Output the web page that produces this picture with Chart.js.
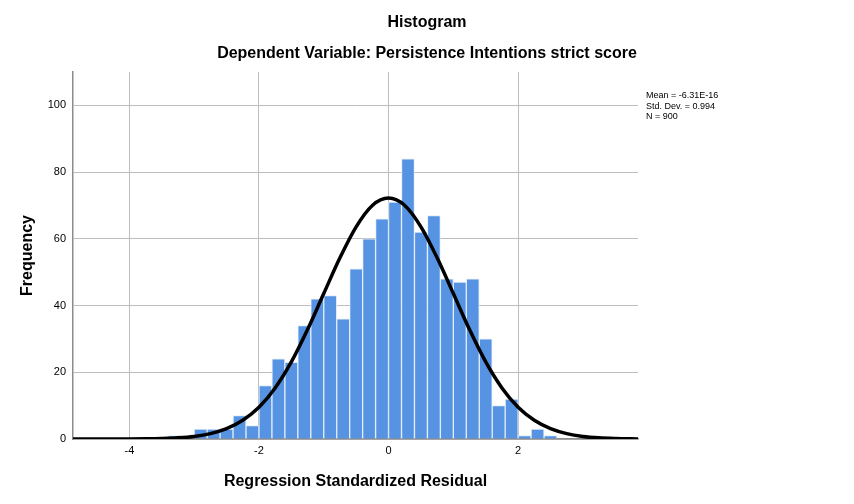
<!DOCTYPE html>
<html>
<head>
<meta charset="utf-8">
<script src="https://cdn.jsdelivr.net/npm/chart.js@4/dist/chart.umd.min.js"></script>
<style>
  body { margin: 0; background: #fff; }
  #wrap { position: relative; width: 854px; height: 504px; font-family: "Liberation Sans", Arial, sans-serif; }
  #hist { position: absolute; left: 0; top: 0; }
  .ttl { position: absolute; left: 0; width: 854px; text-align: center; font-weight: bold; font-size: 16px; color: #000; }
  #stats { position: absolute; left: 646px; top: 90px; font-size: 9px; line-height: 10.5px; color: #000; }
</style>
</head>
<body>
<div id="wrap">
  <canvas id="hist" width="854" height="504"></canvas>
  <div class="ttl" style="top:13px">Histogram</div>
  <div class="ttl" style="top:44px">Dependent Variable: Persistence Intentions strict score</div>
  <div id="stats">Mean = -6.31E-16<br>Std. Dev. = 0.994<br>N = 900</div>
</div>
<script>
// bins of width 0.2, given by their centres
let binCenters = [-3.3, -3.1, -2.9, -2.7, -2.5, -2.3, -2.1, -1.9, -1.7, -1.5, -1.3, -1.1, -0.9, -0.7,
                  -0.5, -0.3, -0.1, 0.1, 0.3, 0.5, 0.7, 0.9, 1.1, 1.3, 1.5, 1.7, 1.9, 2.1, 2.3, 2.5];
let counts = [1, 0, 3, 3, 3, 7, 4, 16, 24, 23, 34, 42, 43, 36,
              51, 60, 66, 71, 84, 62, 67, 48, 47, 48, 30, 10, 12, 1, 3, 1];

// normal curve
let curveX = [-4.87, -4.5, -4.25, -4, -3.75, -3.5, -3.25, -3, -2.75, -2.5, -2.25, -2, -1.75, -1.5, -1.25, -1,
              -0.75, -0.5, -0.25, 0, 0.25, 0.5, 0.75, 1, 1.25, 1.5, 1.75, 2, 2.25, 2.5, 2.75, 3, 3.25, 3.5, 3.85];
let curveY = [0, 0, 0.01, 0.02, 0.06, 0.15, 0.34, 0.76, 1.6, 3.1, 5.6, 9.5, 15.3, 23.1, 32.8, 43.6,
              54.3, 63.6, 70.0, 72.2, 70.0, 63.6, 54.3, 43.6, 32.8, 23.1, 15.3, 9.5, 5.6, 3.1, 1.6, 0.76, 0.34, 0.15, 0.03];

let xTicks = [-4, -2, 0, 2];
let yTicks = [0, 20, 40, 60, 80, 100];

const FONT = "'Liberation Sans', Arial, sans-serif";

let bars = binCenters.map((c, i) => ({ x: c, y: counts[i] }));
let curve = curveX.map((c, i) => ({ x: c, y: curveY[i] }));

let histChart = new Chart(document.getElementById("hist"), {
  type: 'bar',
  data: {
    datasets: [{
      type: 'line',
      data: curve,
      borderColor: '#000',
      borderWidth: 3.5,
      pointRadius: 0,
      cubicInterpolationMode: 'monotone',
      fill: false,
      order: 0
    }, {
      data: bars,
      backgroundColor: '#5694e3',
      borderColor: 'rgba(225,236,250,0.95)',
      borderWidth: 1,
      barPercentage: 1,
      categoryPercentage: 1,
      order: 1
    }]
  },
  options: {
    responsive: false,
    animation: false,
    layout: { padding: { top: 72, right: 216, bottom: 0, left: 0 } },
    plugins: { legend: { display: false }, tooltip: { enabled: false } },
    scales: {
      x: {
        type: 'linear',
        min: -4.87,
        max: 3.85,
        offset: false,
        afterBuildTicks: s => { s.ticks = xTicks.map(v => ({ value: v })); },
        afterFit: s => { s.height = 65; },
        grid: { color: '#bdbdbd', lineWidth: 1, drawTicks: false, offset: false },
        border: { color: '#8c8c8c', width: 1.5 },
        ticks: { color: '#000', font: { family: FONT, size: 11 }, padding: 5, callback: v => String(v) },
        title: { display: true, text: 'Regression Standardized Residual', color: '#000',
                 font: { family: FONT, size: 16, weight: 'bold' }, padding: { top: 0, bottom: 13 } }
      },
      y: {
        min: 0,
        max: 110,
        afterBuildTicks: s => { s.ticks = yTicks.map(v => ({ value: v })); },
        afterFit: s => { s.width = 73; },
        grid: { color: '#bdbdbd', lineWidth: 1, drawTicks: false },
        border: { color: '#8c8c8c', width: 1.5 },
        ticks: { color: '#000', font: { family: FONT, size: 11 }, padding: 7 },
        title: { display: true, text: 'Frequency', color: '#000',
                 font: { family: FONT, size: 16, weight: 'bold' }, padding: { top: 18, bottom: 0 } }
      }
    }
  }
});
</script>
</body>
</html>
